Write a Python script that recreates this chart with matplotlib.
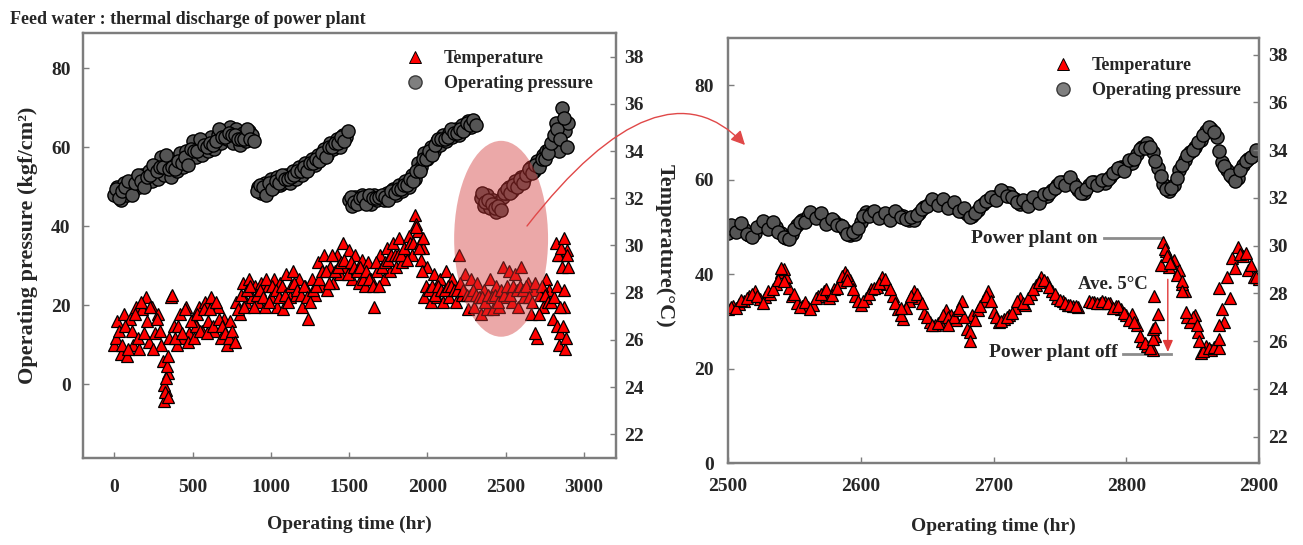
import numpy as np
import matplotlib
matplotlib.use("Agg")
import matplotlib.pyplot as plt
from matplotlib.patches import Ellipse, FancyArrowPatch
from matplotlib.path import Path
from matplotlib.lines import Line2D

nan = np.nan

# ---- left panel: whole run, readings every 20 h plus the ones in between ----
time_left = np.arange(0, 2901, 20)
time_left_mid = np.arange(10, 2891, 20)

pressure_left = [
    48, 50, 46.5, 51, 48,            # 0
    50.5, 49, 52, 50, 53,            # 100
    51, 54, 51.5, 55, 52,            # 200
    57.5, 53, 56, 52.5, 57,          # 300
    54, 58.5, 55, 59, 57,            # 400
    61.5, 57.5, 60, 58, 61,          # 500
    59, 62.5, 59.5, 63, 61,          # 600
    64, 62, 65, 61, 64.5,            # 700
    60.5, 63.5, 61.5, 64, 63,        # 800
    nan, 50, 48.5, 51, 49.5,         # 900
    52, 50, 52.5, 50.5, 51,          # 1000
    53, 51, 54, 52, 55,              # 1100
    53, 56, 54.5, 57, 55.5,          # 1200
    58, 57, 59.5, 58, 61,            # 1300
    59.5, 62, 60, 63, 62.5,          # 1400
    46.5, 45, 47.5, 46, 48,          # 1500
    46.5, 47, 45.5, 48, 46.5,        # 1600
    47.5, 46.5, 48.5, 47.5, 49.5,    # 1700
    48, 50.5, 49, 51.5, 50,          # 1800
    53, 52, 56, 55, 58.5,            # 1900
    57, 60, 59, 61.5, 60.5,          # 2000
    63, 61.5, 63.5, 62.5, 64.5,      # 2100
    63, 65.5, 64.5, 66.5, 65,        # 2200
    66, nan, 47, 45, 48,             # 2300
    44.5, 46.5, 43.5, 46, 47.5,      # 2400
    48.5, 50, 49, 51.5, 51,          # 2500
    52.5, 52, 53.5, 55, 54,          # 2600
    56.5, 56, 58, 59, 59.5,          # 2700
    61, 66, 59, 70, 64,              # 2800
    66,                              # 2900
]

pressure_left_mid = [
    49.5, 47, 49, 50, 51.5,          # 10
    48, 51, 53, 51.5, 50,            # 110
    52.5, 53, 55.5, 54, 55,          # 210
    55, 58, 54.5, 55, 54.5,          # 310
    56.5, 56, 57.5, 55.5, 59.5,      # 410
    59, 59, 62, 60.5, 60,            # 510
    61, 60.5, 61.5, 64.5, 62.5,      # 610
    62.5, 63.5, 63, 63, 62,          # 710
    62, 62, 64.5, 62, 61.5,          # 810
    49, 50.5, 50, 48, 51,            # 910
    49.5, 51.5, 51, 53, 52,          # 1010
    52, 52.5, 53, 54, 54,            # 1110
    55, 54, 56, 56, 57,              # 1210
    56.5, 58.5, 57.5, 60, 60,        # 1310
    61, 61, 62.5, 61.5, 64,          # 1410
    47.5, 46, 45.5, 47, 47.5,        # 1510
    45.5, 48, 47, 47, 47.5,          # 1610
    48, 47.5, 46.5, 49, 48.5,        # 1710
    49.5, 49.5, 50.5, 50.5, 52,      # 1810
    51.5, 54, 54, 57, 57,            # 1910
    59, 58, 60.5, 62, 62,            # 2010
    62, 62.5, 64.5, 63.5, 63.5,      # 2110
    64.5, 64, 66, 65.5, 67,          # 2210
    65.5, nan, 48.5, 46, 46.5,       # 2310
    45.5, 44.5, 45, 44, 48.5,        # 2410
    49.5, 48.5, 50.5, 50, 52,        # 2510
    51, 53, 54.5, 53.5, 55.5,        # 2610
    55, 57, 57, 58.5, 61,            # 2710
    63, 64.5, 62, 67.5, 60,          # 2810
]

temp_left = [
    25.8, 26.8, 25.4, 27.1, 25.3,    # 0
    26.9, 25.8, 27.4, 25.6, 27.3,    # 100
    27.8, 25.9, 27.4, 26.3, 27.1,    # 200
    25.8, 23.4, 24.6, 27.8, 26.6,    # 300
    25.8, 27.1, 26.1, 27.4, 26.3,    # 400
    26.9, 26.6, 27.4, 26.4, 27.6,    # 500
    26.8, 27.8, 26.4, 27.4, 26.1,    # 600
    26.9, 25.8, 26.8, 26.1, 27.6,    # 700
    27.1, 28.4, 27.6, 28.6, 27.8,    # 800
    28.3, 27.6, 28.4, 27.4, 28.3,    # 900
    27.8, 28.6, 27.4, 28.4, 27.3,    # 1000
    28.8, 27.8, 28.9, 27.9, 28.6,    # 1100
    27.4, 28.3, 26.9, 28.6, 27.9,    # 1200
    29.3, 28.3, 29.6, 28.1, 29.1,    # 1300
    28.4, 29.6, 28.8, 30.1, 29.1,    # 1400
    29.8, 28.6, 29.6, 28.4, 29.4,    # 1500
    28.3, 29.3, 28.6, 27.4, 28.9,    # 1600
    29.6, 28.6, 29.9, 28.9, 30.1,    # 1700
    29.1, 30.3, 29.3, 29.8, 30.4,    # 1800
    29.6, 31.3, 30.6, 29.4, 27.8,    # 1900
    29.1, 27.6, 28.8, 27.8, 28.6,    # 2000
    27.6, 28.9, 27.8, 28.6, 27.6,    # 2100
    29.6, 27.9, 28.8, 27.3, 28.6,    # 2200
    27.4, 28.4, 27.1, 28.1, 27.3,    # 2300
    28.6, 27.3, 28.3, 27.4, 29.1,    # 2400
    27.8, 28.9, 27.6, 28.8, 27.4,    # 2500
    29.1, 27.8, 28.4, 27.1, 28.1,    # 2600
    26.1, 27.9, 27.4, 28.6, 28.1,    # 2700
    26.9, 30.1, 25.8, 29.1, 25.6,    # 2800
    29.1,                            # 2900
]

temp_left_mid = [
    26.1, 26.4, 25.8, 26.6, 25.6,    # 10
    26.4, 27.1, 26.1, 27.6, 26.3,    # 110
    26.8, 27.4, 25.6, 26.9, 26.4,    # 210
    25.1, 23.9, 26.1, 27.9, 26.1,    # 310
    26.6, 26.3, 27.3, 25.9, 26.8,    # 410
    26.1, 27.1, 26.4, 27.3, 26.3,    # 510
    27.3, 26.6, 27.6, 26.9, 26.6,    # 610
    26.3, 26.1, 26.4, 25.9, 27.3,    # 710
    27.9, 27.4, 28.1, 28.3, 27.4,    # 810
    27.9, 28.1, 27.8, 28.6, 27.6,    # 910
    28.3, 28.1, 27.8, 28.3, 27.9,    # 1010
    27.6, 28.3, 28.4, 28.1, 27.9,    # 1110
    28.3, 27.8, 27.6, 28.1, 28.3,    # 1210
    28.6, 28.9, 28.9, 28.4, 29.6,    # 1310
    28.9, 29.1, 29.3, 29.4, 28.8,    # 1410
    29.3, 29.1, 28.9, 29.1, 28.6,    # 1510
    28.9, 28.6, 28.3, 29.3, 28.3,    # 1610
    29.1, 29.3, 29.4, 29.6, 29.6,    # 1710
    29.6, 29.6, 29.9, 29.4, 30.1,    # 1810
    30.1, 30.9, 30.1, 29.9, 28.3,    # 1910
    28.1, 28.3, 27.9, 28.3, 28.1,    # 2010
    28.1, 28.3, 28.3, 28.1, 28.1,    # 2110
    28.4, 28.1, 27.9, 27.9, 28.1,    # 2210
    27.9, 27.8, 27.8, 27.6, 27.9,    # 2310
    27.8, 27.9, 27.6, 28.1, 27.9,    # 2410
    28.3, 27.9, 28.3, 28.1, 28.3,    # 2510
    28.1, 28.3, 27.8, 27.6, 28.4,    # 2610
    27.1, 28.3, 27.9, 27.6, 27.6,    # 2710
    27.8, 26.6, 29.6, 27.4, 29.8,    # 2810
]

# extra temperature readings where the cloud forms vertical columns
temp_left_extra_t = [320, 325, 330, 335, 340, 345, 1930, 1945, 1965, 1975, 2690,
                     2830, 2835, 2845, 2850, 2855, 2865, 2870, 2875, 2885, 2890]
temp_left_extra = [24.1, 23.8, 24.4, 24.9, 25.3, 23.6, 30.8, 29.9, 28.9, 30.3, 26.3,
                   28.3, 29.6, 26.3, 27.4, 29.9, 26.6, 28.1, 30.3, 26.1, 29.6]

# ---- right panel: 2500-2900 h, readings every 2 h ----
time_right = np.arange(2500, 2901, 4)
time_right_mid = np.arange(2502, 2899, 4)

pressure_right = [
    48.7, 49.5, 50.0, 49.5, 48.3, 48.8, 50.2, 50.6, 50.3, 50.0,   # 2500
    48.8, 47.6, 48.5, 50.3, 51.4, 52.2, 52.6, 52.2, 51.6, 51.0,   # 2540
    51.2, 50.5, 49.3, 48.2, 48.6, 51.0, 53.1, 53.0, 52.6, 52.2,   # 2580
    52.1, 52.5, 52.7, 52.2, 51.4, 51.5, 53.0, 54.2, 55.0, 55.3,   # 2620
    55.2, 54.9, 54.6, 54.0, 53.4, 52.8, 52.3, 53.6, 54.9, 55.7,   # 2660
    56.3, 56.8, 57.4, 57.2, 56.0, 54.9, 55.0, 55.5, 55.8, 56.0,   # 2700
    56.6, 57.8, 58.8, 59.5, 59.8, 59.2, 57.8, 57.2, 58.8, 59.5,   # 2740
    59.3, 59.4, 60.6, 61.9, 62.6, 63.0, 63.6, 65.5, 67.0, 67.7,   # 2780
    65.9, 62.5, 59.0, 57.6, 58.8, 62.0, 64.2, 65.9, 67.0, 68.5,   # 2820
    70.4, 70.8, 69.0, 63.7, 62.0, 60.6, 60.4, 63.2, 64.3, 65.3,   # 2860
    65.9,                                                         # 2900
]

pressure_right_mid = [
    50.3, 48.9, 50.8, 48.5, 47.8, 49.9, 51.2, 49.5, 51.0, 48.9,   # 2502
    47.9, 47.4, 49.6, 51.1, 51.0, 53.2, 51.8, 52.9, 50.6, 51.7,   # 2542
    50.4, 50.1, 48.4, 48.9, 49.8, 52.3, 52.4, 53.4, 51.8, 53.0,   # 2582
    51.4, 53.3, 52.0, 51.6, 52.1, 52.6, 53.8, 54.5, 56.0, 54.6,   # 2622
    55.9, 54.0, 55.2, 53.3, 53.9, 52.0, 53.0, 54.4, 55.4, 56.4,   # 2662
    55.8, 57.9, 56.6, 56.4, 55.3, 55.7, 54.4, 56.4, 55.1, 56.9,   # 2702
    57.2, 58.3, 59.6, 58.8, 60.5, 58.4, 57.1, 58.1, 59.6, 58.8,   # 2742
    60.0, 60.1, 61.4, 62.4, 61.9, 64.1, 64.4, 66.4, 66.8, 67.0,   # 2782
    64.0, 60.7, 58.0, 58.3, 60.3, 63.1, 65.3, 66.3, 68.0, 69.5,   # 2822
    71.2, 70.2, 66.0, 62.8, 61.0, 59.8, 62.0, 63.9, 64.8, 66.3,   # 2862
]

temp_right = [
    27.37, 27.49, 27.55, 27.67, 27.89, 28.11, 27.75, 27.85, 27.99, 28.38,  # 2500
    28.90, 28.68, 27.89, 27.59, 27.49, 27.45, 27.53, 27.89, 28.11, 27.79,  # 2540
    28.19, 28.48, 28.90, 28.58, 27.89, 27.53, 27.79, 28.19, 28.28, 28.68,  # 2580
    28.38, 27.89, 27.37, 26.94, 27.69, 28.11, 27.79, 27.19, 26.80, 26.66,  # 2620
    26.80, 27.29, 27.10, 26.88, 27.67, 26.52, 27.10, 27.29, 27.69, 28.11,  # 2660
    27.23, 26.80, 26.94, 27.10, 27.39, 27.81, 27.53, 27.99, 28.34, 28.68,  # 2700
    28.48, 28.11, 27.81, 27.67, 27.53, 27.49, 27.45, nan, 27.67, 27.63,    # 2740
    27.59, 27.63, 27.59, 27.49, 27.37, 27.10, 27.15, 26.66, 26.01, 25.79,  # 2780
    25.65, 27.15, 30.15, 29.12, 29.41, 28.98, 28.11, 26.80, 27.10, 25.51,  # 2820
    25.79, 25.65, 25.79, 27.37, 28.68, 29.47, 29.93, 29.55, 28.98, 28.68,  # 2860
    28.62,                                                                 # 2900
]

temp_right_mid = [
    27.45, 27.39, 27.71, 27.79, 27.99, 27.89, 27.59, 28.09, 28.19, 28.58,  # 2502
    29.02, 28.25, 27.99, 27.45, 27.65, 27.37, 27.79, 27.99, 28.19, 27.95,  # 2542
    28.25, 28.74, 28.78, 28.19, 27.67, 27.67, 27.99, 28.23, 28.44, 28.62,  # 2582
    28.19, 27.59, 27.10, 27.39, 27.89, 27.99, 27.59, 27.00, 26.70, 26.76,  # 2622
    27.10, 27.00, 27.00, 27.29, 27.00, 26.40, 26.90, 27.49, 27.89, 27.69,  # 2662
    27.00, 26.84, 27.00, 27.19, 27.69, 27.59, 27.79, 28.19, 28.48, 28.58,  # 2702
    28.28, 27.99, 27.71, 27.59, 27.51, 27.47, nan, nan, 27.65, 27.61,      # 2742
    27.67, 27.59, 27.39, 27.49, 27.19, 26.90, 26.80, 26.20, 25.91, 25.71,  # 2782
    26.20, 29.18, 29.77, 29.27, 28.78, 28.38, 27.00, 27.00, 26.40, 25.61,  # 2822
    25.71, 25.77, 25.73, 26.80, 27.79, 29.08, 29.67, 29.69, 29.18, 28.68,  # 2862
]

temp_right_extra_t = [2540, 2542, 2590, 2630, 2666, 2674, 2682, 2820, 2820, 2821, 2822,
                      2829, 2831, 2833, 2842, 2842, 2845, 2853, 2855, 2870, 2870, 2870]
temp_right_extra = [29.06, 28.54, 28.58, 27.39, 26.70, 27.39, 26.01, 26.08, 26.52, 27.89, 26.60,
                    29.87, 29.57, 29.27, 28.54, 28.11, 27.23, 26.66, 26.01, 26.08, 26.66, 28.25]

# ---- style ----
plt.rcParams["font.family"] = ["Liberation Serif", "DejaVu Serif"]
plt.rcParams["font.weight"] = "bold"
plt.rcParams["axes.labelweight"] = "bold"
plt.rcParams["font.size"] = 14

W, H = 1303, 545
txt = "#262626"
spine_c = "#7d7d7d"
red = "#ff0000"

tri = dict(linestyle="none", marker="^", markersize=8, markerfacecolor=red,
           markeredgecolor="black", markeredgewidth=0.9)
circ = dict(linestyle="none", marker="o", markersize=9.5, markerfacecolor="#555555",
            markeredgecolor="black", markeredgewidth=1.0)
# legend symbols are a little lighter than the crowded clouds
tri_key = dict(tri, markeredgewidth=0.7)
circ_key = dict(circ, markerfacecolor="#7f7f7f", markeredgecolor="#3a3a3a")

fig = plt.figure(figsize=(W / 100, H / 100), dpi=100)


def fx(px):
    return px / W


def fy(py):
    return 1 - py / H


def style_axes(ax, twin, xpad, ypad_l, ypad_r):
    for a in (ax, twin):
        for s in a.spines.values():
            s.set_color(spine_c)
            s.set_linewidth(1.6)
    ax.tick_params(axis="both", direction="in", length=4, width=1, color=spine_c,
                   labelsize=14, labelcolor=txt)
    ax.tick_params(axis="x", pad=xpad)
    ax.tick_params(axis="y", pad=ypad_l)
    twin.tick_params(axis="y", direction="in", length=4, width=1, color=spine_c,
                     labelsize=14, labelcolor=txt, pad=ypad_r)
    twin.set_yticks(np.arange(22, 39, 2))


def legend(ax, x, y):
    handles = [Line2D([], [], **tri_key), Line2D([], [], **circ_key)]
    ax.legend(handles, ["Temperature", "Operating pressure"], loc="upper left",
              bbox_to_anchor=(fx(x), fy(y)), bbox_transform=fig.transFigure,
              frameon=False, borderpad=0, handlelength=1.0, handletextpad=1.1,
              labelspacing=0.45, numpoints=1, fontsize=13, labelcolor=txt)


# ---- left panel ----
ax1 = fig.add_axes([fx(83), fy(458), fx(616 - 83), (458 - 33) / H])
ax1b = ax1.twinx()
ax1.plot(time_left, pressure_left, **circ, zorder=2)
ax1.plot(time_left_mid, pressure_left_mid, **circ, zorder=2)
ax1b.plot(time_left, temp_left, **tri, zorder=2)
ax1b.plot(time_left_mid, temp_left_mid, **tri, zorder=2)
ax1b.plot(temp_left_extra_t, temp_left_extra, **tri, zorder=2)
ax1.set_xlim(-200, 3205)
ax1.set_ylim(-18.7, 88.9)
ax1.set_xticks(np.arange(0, 3001, 500))
ax1.set_yticks(np.arange(0, 81, 20))
style_axes(ax1, ax1b, 15, 9, 6)
ax1b.set_ylim(21.0, 39.0)
ax1.set_xlabel("Operating time (hr)", fontsize=14, color=txt, labelpad=14)
ax1.set_ylabel("Operating pressure (kgf/cm²)", fontsize=16, color=txt, labelpad=9)
ax1b.set_ylabel("Temperature(°C)", fontsize=16, color=txt, rotation=270, labelpad=22)

# highlighted part that is magnified on the right
ax1b.add_patch(Ellipse((2471, 36.8), 600, 49.6, transform=ax1.transData,
                       facecolor="#d13737", edgecolor="none", alpha=0.43, zorder=5))
legend(ax1b, 397, 41)

# ---- right panel ----
ax2 = fig.add_axes([fx(728), fy(463), fx(1259 - 728), (463 - 38) / H])
ax2b = ax2.twinx()
ax2.plot(time_right, pressure_right, **circ, zorder=2)
ax2.plot(time_right_mid, pressure_right_mid, **circ, zorder=2)
ax2b.plot(time_right, temp_right, **tri, zorder=2)
ax2b.plot(time_right_mid, temp_right_mid, **tri, zorder=2)
ax2b.plot(temp_right_extra_t, temp_right_extra, **tri, zorder=2)
ax2.set_xlim(2500, 2900)
ax2.set_ylim(0, 90)
ax2.set_xticks(np.arange(2500, 2901, 100))
ax2.set_yticks(np.arange(0, 81, 20))
style_axes(ax2, ax2b, 11, 10, 6.5)
ax2b.set_ylim(20.9, 38.7)
ax2.set_xlabel("Operating time (hr)", fontsize=14, color=txt, labelpad=16)
legend(ax2b, 1045, 48)

# annotations
ann = dict(fontsize=14, color=txt, va="center", ha="right")
ax2.text(2778.5, 47.6, "Power plant on", **ann)
ax2.plot([2783, 2828], [47.6, 47.6], color="#8c8c8c", lw=2, zorder=3)
ax2.text(2793.6, 23.3, "Power plant off", **ann)
ax2.plot([2797.4, 2833.6], [23.1, 23.1], color="#8c8c8c", lw=2, zorder=3)
ax2.text(2816, 37.9, "Ave. 5°C", fontsize=13.5, color=txt, va="center", ha="right")
ax2.annotate("", xy=(2831.3, 23.5), xytext=(2831.3, 38.9),
             arrowprops=dict(arrowstyle="-|>,head_length=0.5,head_width=0.22",
                             color="#e03a3a", lw=1, shrinkA=0, shrinkB=0))

# curved arrow from the ellipse to the zoomed panel
curve = Path([(fx(527), fy(226)), (fx(660), fy(55)), (fx(745), fy(145))],
             [Path.MOVETO, Path.CURVE3, Path.CURVE3])
fig.add_artist(FancyArrowPatch(path=curve, transform=fig.transFigure,
                               arrowstyle="-|>,head_length=0.6,head_width=0.3",
                               mutation_scale=14, color="#e04848", lw=1))

fig.text(fx(10), fy(19), "Feed water : thermal discharge of power plant",
         fontsize=13, color=txt, ha="left", va="center")

fig.savefig("out.png", dpi=100)
plt.close(fig)
